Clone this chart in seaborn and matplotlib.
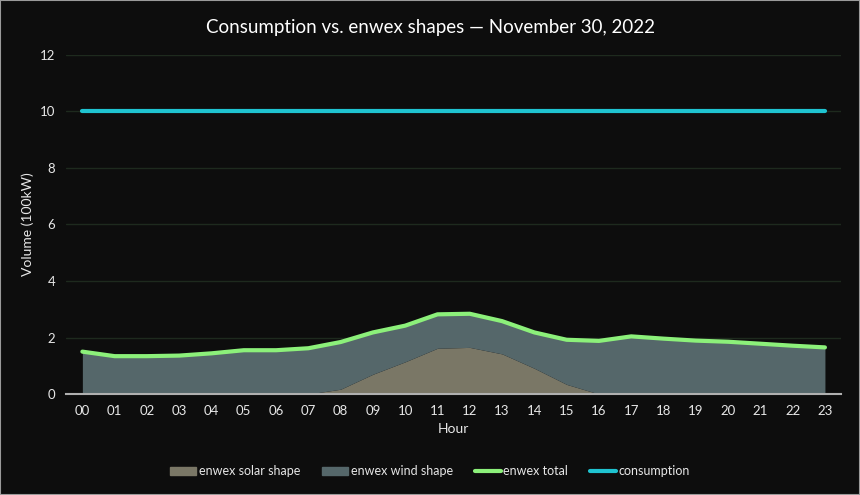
import numpy as np
import pandas as pd
import matplotlib
matplotlib.use("Agg")
import matplotlib.pyplot as plt
import seaborn as sns
from matplotlib.patches import Patch
from matplotlib.lines import Line2D

# --- data ---
hours = ["00", "01", "02", "03", "04", "05", "06", "07", "08", "09", "10", "11",
         "12", "13", "14", "15", "16", "17", "18", "19", "20", "21", "22", "23"]
enwex_total = [1.50, 1.34, 1.34, 1.36, 1.44, 1.55, 1.55, 1.62, 1.84, 2.18, 2.42, 2.82,
               2.84, 2.58, 2.18, 1.92, 1.88, 2.04, 1.96, 1.89, 1.85, 1.78, 1.71, 1.65]
enwex_solar = [0, 0, 0, 0, 0, 0, 0, 0, 0.17, 0.70, 1.14, 1.62,
               1.65, 1.42, 0.91, 0.34, 0, 0, 0, 0, 0, 0, 0, 0]
consumption = [10.0] * 24

df = pd.DataFrame({"hour": hours, "total": enwex_total, "solar": enwex_solar,
                   "consumption": consumption})
df["wind"] = df["total"] - df["solar"]
df["x"] = np.arange(len(df))

bg = "#0d0d0d"
txt = "#e6e6e6"
c_solar = "#7a7766"
c_wind = "#55676a"
c_total = "#8cf07a"
c_cons = "#1fc3d0"

sns.set_theme(style="dark")
plt.rcParams["font.family"] = ["Lato", "DejaVu Sans"]

fig = plt.figure(figsize=(8.6, 4.95), dpi=100, facecolor=bg)
ax = fig.add_axes([0.077, 0.204, 0.901, 0.685])
ax.set_facecolor(bg)

ax.stackplot(df["x"], df["solar"], df["wind"], colors=[c_solar, c_wind], linewidth=0)
sns.lineplot(data=df, x="x", y="total", color=c_total, linewidth=3, ax=ax)
sns.lineplot(data=df, x="x", y="consumption", color=c_cons, linewidth=3, ax=ax)

ax.set_xlim(-0.5, 23.5)
ax.set_ylim(0, 12)
ax.set_yticks([0, 2, 4, 6, 8, 10, 12])
ax.set_xticks(df["x"])
ax.set_xticklabels(hours)
ax.grid(axis="y", color="#1e2a1e", linewidth=1)
ax.grid(axis="x", visible=False)
ax.set_axisbelow(True)
for s in ["top", "right", "left"]:
    ax.spines[s].set_visible(False)
ax.spines["bottom"].set_color("#b0b0b0")
ax.spines["bottom"].set_linewidth(1.5)
ax.tick_params(colors=txt, labelsize=9.5, length=0, pad=8)

ax.set_xlabel("Hour", color=txt, fontsize=10)
ax.set_ylabel("Volume (100kW)", color=txt, fontsize=10)
fig.suptitle("Consumption vs. enwex shapes \u2014 November 30, 2022",
             color="white", fontsize=13.5, x=0.5, y=0.945, va="center")

handles = [Patch(color=c_solar, label="enwex solar shape"),
           Patch(color=c_wind, label="enwex wind shape"),
           Line2D([], [], color=c_total, linewidth=3, label="enwex total"),
           Line2D([], [], color=c_cons, linewidth=3, label="consumption")]
fig.legend(handles=handles, loc="center", bbox_to_anchor=(0.5, 0.048), ncol=4,
           frameon=False, fontsize=9, labelcolor=txt, handlelength=2.1,
           handleheight=0.6, handletextpad=0.2, columnspacing=1.75)

fig.patches.append(plt.Rectangle((0, 0), 1, 1, transform=fig.transFigure,
                                 fill=False, edgecolor="#9a9a9a", linewidth=1.5))

fig.savefig("out.png", dpi=100, facecolor=bg)
